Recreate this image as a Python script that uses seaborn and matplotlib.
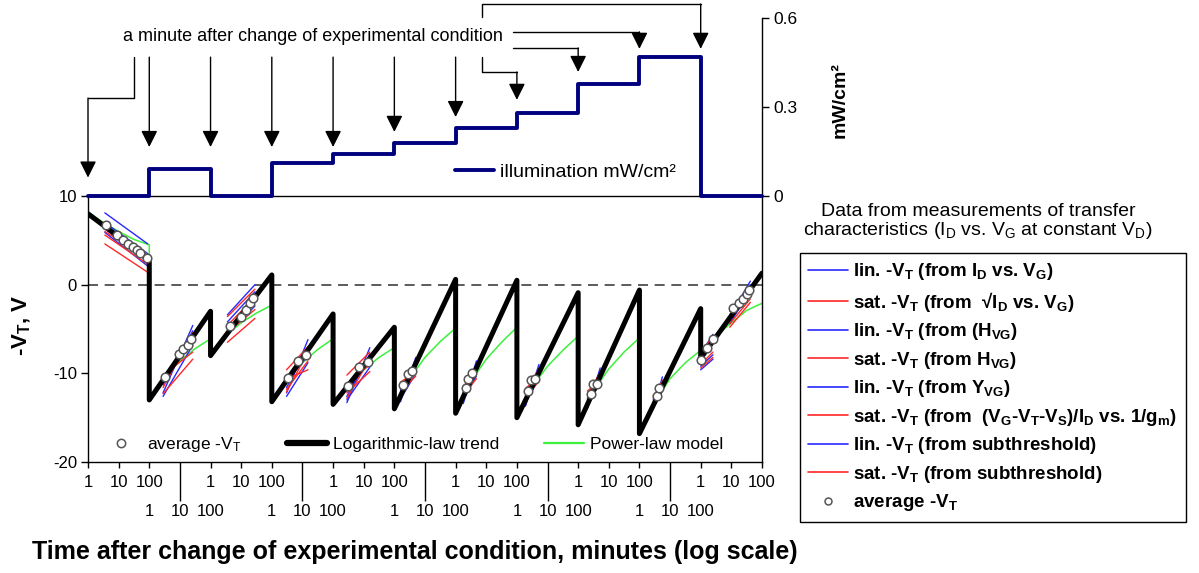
import matplotlib
matplotlib.use('Agg')
import matplotlib.pyplot as plt
from matplotlib.lines import Line2D
import pandas as pd
import seaborn as sns

# 11 experimental conditions, each shown on its own 1..100 min log axis (2 decades wide)
illumination = [0, 0.091, 0, 0.111, 0.142, 0.179, 0.229, 0.280, 0.377, 0.468, 0]

# logarithmic-law trend, -VT at 1 min and at 100 min of each condition
trend_start = [8.0, -13.0, -8.0, -13.2, -13.5, -14.0, -14.5, -15.0, -15.8, -16.8, -8.3]
trend_end = [2.8, -3.0, 1.1, -3.3, -4.8, 0.6, 0.5, -0.9, -0.6, -2.7, 1.3]

# power-law model, sampled at log10(t) = 0, 0.5, 1, 1.5, 2
model_logt = [0, 0.5, 1.0, 1.5, 2.0]
model_vt = [
    [8.2, 7.0, 6.0, 5.1, 4.5],
    [-13.0, -10.5, -8.6, -7.2, -6.1],
    [-8.0, -5.7, -4.3, -3.2, -2.3],
    [-13.2, -10.7, -8.8, -7.3, -6.1],
    [-13.5, -11.3, -9.6, -8.2, -7.1],
    [-14.0, -10.6, -8.2, -6.4, -4.9],
    [-14.5, -10.9, -8.4, -6.5, -4.8],
    [-15.0, -11.5, -9.2, -7.4, -5.8],
    [-15.8, -12.0, -9.5, -7.6, -6.0],
    [-16.8, -13.3, -10.6, -8.8, -7.4],
    [-7.4, -5.8, -4.3, -2.9, -2.1],
]

# average -VT, log10(minutes) inside each condition
avg_logt = [
    [0.59, 0.95, 1.14, 1.31, 1.47, 1.60, 1.70, 1.93],
    [0.51, 0.97, 1.10, 1.26, 1.36],
    [0.64, 1.00, 1.16, 1.29, 1.39],
    [0.53, 0.86, 1.12],
    [0.49, 0.85, 1.14],
    [0.29, 0.45, 0.58],
    [0.34, 0.41, 0.54],
    [0.37, 0.46, 0.59],
    [0.42, 0.49, 0.62],
    [0.58, 0.65],
    [0.0, 0.21, 0.41, 1.06, 1.26, 1.39, 1.52, 1.58],
]
avg_vt = [
    [6.7, 5.6, 5.0, 4.6, 4.2, 3.9, 3.6, 3.0],
    [-10.4, -7.8, -7.3, -6.8, -6.1],
    [-4.7, -3.7, -2.8, -2.1, -1.5],
    [-10.5, -8.6, -7.9],
    [-11.4, -9.3, -8.7],
    [-11.3, -10.1, -9.7],
    [-11.7, -10.6, -10.0],
    [-12.0, -10.7, -10.6],
    [-12.3, -11.2, -11.2],
    [-12.6, -11.6],
    [-8.5, -7.1, -6.1, -2.6, -2.1, -1.6, -1.0, -0.6],
]

# individual extraction methods: each bundle spans log10(t) from cl_t0 to cl_t1
cl_seg = [0, 1, 2, 3, 4, 5, 6, 7, 8, 9, 10, 10]
cl_t0 = [0.55, 0.45, 0.55, 0.48, 0.45, 0.20, 0.25, 0.28, 0.30, 0.45, 0.0, 0.95]
cl_t1 = [1.95, 1.42, 1.45, 1.18, 1.20, 0.70, 0.68, 0.72, 0.72, 0.75, 0.40, 1.62]
blue_v0 = [[8.1, 7.0, 6.3, 5.9], [-12.2, -11.3, -10.8, -12.6], [-3.4, -4.2, -5.0, -5.6],
           [-12.2, -11.6, -11.0, -12.6], [-13.3, -12.6, -12.0, -13.0], [-13.2, -12.6, -12.9, -11.9],
           [-13.4, -12.8, -13.0, -12.2], [-13.7, -13.1, -13.3, -12.5], [-14.0, -13.4, -13.6, -12.8],
           [-14.0, -13.5, -13.7, -13.0], [-9.2, -8.0, -7.8, -9.6], [-3.6, -4.4, -3.0, -4.0]]
blue_v1 = [[4.6, 3.5, 2.6, 2.1], [-4.6, -5.2, -6.0, -6.8], [0.0, -0.8, -1.6, -2.4],
           [-6.2, -7.0, -8.0, -8.8], [-7.1, -7.8, -8.6, -9.3], [-8.2, -9.1, -10.0, -8.7],
           [-8.6, -9.5, -10.3, -9.0], [-9.0, -9.8, -10.6, -9.4], [-9.4, -10.2, -11.0, -9.8],
           [-10.4, -11.0, -11.6, -10.8], [-7.9, -5.8, -5.6, -8.4], [0.4, -0.6, 0.0, -1.2]]
red_v0 = [[6.6, 5.6, 4.6, 6.0], [-11.6, -10.2, -12.3, -11.0], [-3.6, -4.6, -6.5, -5.4],
          [-9.6, -11.8, -10.6, -12.1], [-10.2, -12.2, -11.2, -12.8], [-11.6, -12.1, -12.7, -11.0],
          [-11.8, -12.4, -13.0, -11.4], [-12.1, -12.7, -13.3, -11.7], [-12.4, -13.0, -13.6, -12.0],
          [-12.8, -13.2, -13.8, -12.5], [-9.4, -8.2, -7.6, -9.0], [-4.4, -3.4, -4.8, -3.8]]
red_v1 = [[3.3, 2.3, 1.4, 2.9], [-5.4, -7.6, -8.4, -6.4], [-0.5, -1.4, -3.8, -2.8],
          [-7.0, -8.6, -9.6, -7.6], [-7.6, -9.8, -9.0, -8.4], [-8.9, -10.3, -9.5, -9.8],
          [-9.2, -10.6, -9.8, -10.1], [-9.5, -10.9, -10.1, -10.4], [-9.9, -11.3, -10.5, -10.8],
          [-10.8, -11.8, -11.2, -11.4], [-8.2, -6.2, -5.9, -7.6], [-1.6, -0.2, -2.0, -0.8]]

decade_labels = ['1', '10', '100']

legend_labels = [
    'lin. -V$_T$ (from I$_D$ vs. V$_G$)',
    'sat. -V$_T$ (from  √I$_D$ vs. V$_G$)',
    'lin. -V$_T$ (from (H$_{VG}$)',
    'sat. -V$_T$ (from H$_{VG}$)',
    'lin. -V$_T$ (from Y$_{VG}$)',
    'sat. -V$_T$ (from  (V$_G$-V$_T$-V$_S$)/I$_D$ vs. 1/g$_m$)',
    'lin. -V$_T$ (from subthreshold)',
    'sat. -V$_T$ (from subthreshold)',
    'average -V$_T$',
]

BLUE = '#2828ff'
RED = '#ff2828'
GREEN = '#3cf03c'
NAVY = '#00007f'

sns.set_theme(style='white')
plt.rcParams['font.family'] = ['Liberation Sans', 'DejaVu Sans']
plt.rcParams['mathtext.default'] = 'regular'
plt.rcParams['axes.unicode_minus'] = False
plt.rcParams['axes.edgecolor'] = 'black'
plt.rcParams['text.color'] = 'black'
plt.rcParams['xtick.color'] = 'black'
plt.rcParams['ytick.color'] = 'black'

n_seg = len(illumination)

# build tables
rows = []
for k in range(n_seg):
    rows.append((2 * k, trend_start[k]))
    rows.append((2 * k + 2, trend_end[k]))
trend = pd.DataFrame(rows, columns=['x', 'vt'])

rows = []
for k in range(n_seg):
    for lt, v in zip(model_logt, model_vt[k]):
        rows.append((2 * k + lt, v))
model = pd.DataFrame(rows, columns=['x', 'vt'])

rows = []
for k in range(n_seg):
    for lt, v in zip(avg_logt[k], avg_vt[k]):
        rows.append((2 * k + lt, v))
avg = pd.DataFrame(rows, columns=['x', 'vt'])

rows = []
for c in range(len(cl_seg)):
    x0 = 2 * cl_seg[c] + cl_t0[c]
    x1 = 2 * cl_seg[c] + cl_t1[c]
    for j in range(4):
        rows.append((f'b{c}_{j}', 'lin', x0, blue_v0[c][j]))
        rows.append((f'b{c}_{j}', 'lin', x1, blue_v1[c][j]))
        rows.append((f'r{c}_{j}', 'sat', x0, red_v0[c][j]))
        rows.append((f'r{c}_{j}', 'sat', x1, red_v1[c][j]))
methods = pd.DataFrame(rows, columns=['line', 'kind', 'x', 'vt'])

illum = pd.DataFrame({'x': [2 * k for k in range(n_seg + 1)],
                      'mw': illumination + [illumination[-1]]})

fig = plt.figure(figsize=(11.99, 5.73), dpi=100)
ax = fig.add_axes([0.0734, 0.1937, 0.5621, 0.4642])
axt = fig.add_axes([0.0734, 0.658, 0.5621, 0.3106])

# ---- lower panel: threshold voltage
ax.axhline(0, color='#404040', lw=1.2, ls=(0, (6, 4)), zorder=1)
sns.lineplot(data=model, x='x', y='vt', sort=False, estimator=None, color=GREEN,
             lw=1.1, ax=ax, zorder=2)
sns.lineplot(data=methods[methods.kind == 'lin'], x='x', y='vt', units='line', sort=False,
             estimator=None, color=BLUE, lw=1.0, ax=ax, zorder=3)
sns.lineplot(data=methods[methods.kind == 'sat'], x='x', y='vt', units='line', sort=False,
             estimator=None, color=RED, lw=1.0, ax=ax, zorder=3)
sns.lineplot(data=trend, x='x', y='vt', sort=False, estimator=None, color='black',
             lw=3.6, ax=ax, zorder=4)
sns.scatterplot(data=avg, x='x', y='vt', s=38, color='white', edgecolor='#555555',
                linewidth=1.1, ax=ax, zorder=5)

ax.set_xlim(0, 2 * n_seg)
ax.set_ylim(-20, 10)
ax.set_xlabel('')
ax.set_ylabel('')
ax.set_yticks([-20, -10, 0, 10], ['-20', '-10', '0', '10'])
ax.tick_params(axis='y', left=True, direction='out', length=5, width=1, labelsize=12, pad=3)

long_pos = [2 * k + 1 for k in range(1, n_seg, 2)]
row1_pos, row1_lab, row2_pos, row2_lab = [], [], [], []
for k in range(n_seg):
    for d in range(3):
        if k % 2 == 0:
            row1_pos.append(2 * k + d)
            row1_lab.append(decade_labels[d])
        else:
            row2_pos.append(2 * k + d)
            row2_lab.append(decade_labels[d])
ax.set_xticks(row1_pos, row1_lab)
ax.set_xticks(long_pos, minor=True)
ax.tick_params(axis='x', which='major', bottom=True, direction='out', length=4, width=1,
               labelsize=12, pad=5)
ax.tick_params(axis='x', which='minor', bottom=True, direction='out', length=28, width=1)
sec = ax.secondary_xaxis('bottom')
sec.set_xticks(row2_pos, row2_lab)
sec.tick_params(length=0, pad=30, labelsize=12)
sec.spines['bottom'].set_visible(False)

for s in ax.spines.values():
    s.set_visible(True)
    s.set_color('black')
    s.set_linewidth(1)

leg_handles = [
    Line2D([], [], marker='o', ls='', mfc='white', mec='#555555', ms=6, mew=1.1),
    Line2D([], [], color='black', lw=4.5),
    Line2D([], [], color=GREEN, lw=1.6),
]
ax.legend(leg_handles, ['average -V$_T$', 'Logarithmic-law trend', 'Power-law model'],
          loc='lower left', bbox_to_anchor=(0.02, 0.03), ncol=3, frameon=False, fontsize=12.5,
          handlelength=2.3, handletextpad=0.35, columnspacing=2.6, borderpad=0,
          borderaxespad=0)

# ---- upper panel: illumination
sns.lineplot(data=illum, x='x', y='mw', sort=False, estimator=None, drawstyle='steps-post',
             color=NAVY, lw=2.8, ax=axt, clip_on=False, zorder=5)
axt.set_xlim(0, 2 * n_seg)
axt.set_ylim(0, 0.6)
axt.set_xlabel('')
axt.set_ylabel('')
axt.set_xticks([])
axt.yaxis.tick_right()
axt.set_yticks([0, 0.3, 0.6], ['0', '0.3', '0.6'])
axt.tick_params(axis='y', right=True, direction='out', length=5, width=1, labelsize=12.5, pad=3)
for name in ['left', 'top', 'bottom']:
    axt.spines[name].set_visible(False)
axt.spines['right'].set_color('black')
axt.spines['right'].set_linewidth(1)
axt.patch.set_alpha(0)

axt.legend([Line2D([], [], color=NAVY, lw=2.8)], ['illumination mW/cm²'], loc='center left',
           bbox_to_anchor=(0.545, 0.135), frameon=False, fontsize=14, handlelength=2.0,
           handletextpad=0.3, borderpad=0, borderaxespad=0)

axt.text(7.34, 0.536, 'a minute after change of experimental condition', ha='center',
         va='center', fontsize=13)

# arrows: stem vertices, last point is the arrow tip
arrows = [
    [(1.5, 0.468), (1.5, 0.330), (0, 0.330), (0, 0.062)],
    [(2, 0.468), (2, 0.165)],
    [(4, 0.468), (4, 0.165)],
    [(6, 0.468), (6, 0.165)],
    [(8, 0.468), (8, 0.165)],
    [(10, 0.468), (10, 0.216)],
    [(12, 0.468), (12, 0.266)],
    [(12.86, 0.468), (12.86, 0.418), (14, 0.418), (14, 0.324)],
    [(13.87, 0.499), (16, 0.499), (16, 0.418)],
    [(13.87, 0.553), (18, 0.553), (18, 0.496)],
    [(12.86, 0.603), (12.86, 0.647), (20, 0.647), (20, 0.496)],
]
for path in arrows:
    xs = [p[0] for p in path[:-1]]
    ys = [p[1] for p in path[:-1]]
    if len(xs) > 1:
        axt.plot(xs, ys, color='black', lw=1, clip_on=False)
    axt.annotate('', xy=path[-1], xytext=path[-2], annotation_clip=False,
                 arrowprops=dict(arrowstyle='-|>,head_length=1.0,head_width=0.5', color='black',
                                 lw=1, shrinkA=0, shrinkB=0, mutation_scale=10))

# ---- labels
fig.text(22 / 1199, 1 - 325 / 573, '-V$_T$, V', rotation=90, fontweight='bold', fontsize=16,
         ha='center', va='center')
fig.text(840 / 1199, 1 - 100 / 573, 'mW/cm²', rotation=90, fontweight='bold', fontsize=14,
         ha='center', va='center')
fig.text(415 / 1199, 1 - 552 / 573,
         'Time after change of experimental condition, minutes (log scale)',
         fontweight='bold', fontsize=18, ha='center', va='center')
fig.text(978 / 1199, 1 - 222 / 573,
         'Data from measurements of transfer\ncharacteristics (I$_D$ vs. V$_G$ at constant V$_D$)',
         fontsize=14, ha='center', va='center', linespacing=1.0)

method_handles = []
for i in range(8):
    method_handles.append(Line2D([], [], color=BLUE if i % 2 == 0 else RED, lw=1.2))
method_handles.append(Line2D([], [], marker='o', ls='', mfc='white', mec='#555555', ms=5,
                             mew=1.1))
leg = fig.legend(method_handles, legend_labels, loc='upper left',
                 bbox_to_anchor=(800 / 1199, 1 - 253 / 573), frameon=True, fancybox=False,
                 edgecolor='black', framealpha=1, prop={'weight': 'bold', 'size': 13.5},
                 handlelength=2.1, handletextpad=0.3, labelspacing=0.4, borderpad=0.45,
                 borderaxespad=0)
leg.get_frame().set_linewidth(1)

plt.savefig('out.png', dpi=100)
plt.close()
